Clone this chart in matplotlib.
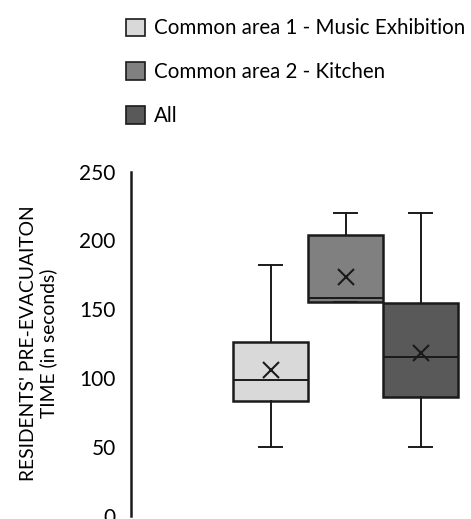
from matplotlib import pyplot as plt
from matplotlib.patches import Patch

# %% Data
series = ["Common area 1 - Music Exhibition", "Common area 2 - Kitchen", "All"]
whis_lo = [50, 155, 50]
q1 = [83, 155, 86.5]
median = [98.5, 158, 115]
q3 = [126.5, 204, 154.5]
whis_hi = [182.5, 220, 220]
mean = [106, 173.5, 118]
yticks = [0, 50, 100, 150, 200, 250]

colors = ["#d9d9d9", "#808080", "#595959"]
edge = "#1a1a1a"

plt.rcParams['font.family'] = ['Lato', 'DejaVu Sans']

fig = plt.figure(figsize=(4.71, 5.19), dpi=100)
ax = fig.add_axes([131 / 471, 3.5 / 519, 340 / 471, 343.8 / 519])

stats = []
for i in range(len(series)):
    stats.append(dict(whislo=whis_lo[i], q1=q1[i], med=median[i], q3=q3[i],
                      whishi=whis_hi[i], mean=mean[i], fliers=[]))

bp = ax.bxp(stats, positions=[1, 2, 3], widths=1.0, capwidths=0.3,
            patch_artist=True, showmeans=True, manage_ticks=False,
            boxprops=dict(edgecolor=edge, linewidth=1.8),
            medianprops=dict(color=edge, linewidth=1.4),
            whiskerprops=dict(color=edge, linewidth=1.4),
            capprops=dict(color=edge, linewidth=1.4),
            meanprops=dict(marker='x', markeredgecolor=edge, markersize=11,
                           markeredgewidth=1.5))
for box, c in zip(bp['boxes'], colors):
    box.set_facecolor(c)

ax.set_xlim(1 - 139.5 / 75, 1 - 139.5 / 75 + 340 / 75)
ax.set_ylim(0, 250)
ax.set_yticks(yticks)
ax.tick_params(axis='y', length=0, labelsize=15, pad=11)
ax.set_xticks([])
for s in ['top', 'right', 'bottom']:
    ax.spines[s].set_visible(False)
ax.spines['left'].set_linewidth(1.8)
ax.spines['left'].set_color(edge)

ax.set_ylabel("RESIDENTS' PRE-EVACUAITON\nTIME (in seconds)", fontsize=13.9,
              labelpad=16, linespacing=1.15)

handles = [Patch(facecolor=c, edgecolor=edge, linewidth=1.2) for c in colors]
fig.legend(handles, series, loc='upper left', bbox_to_anchor=(107 / 471, 1.0),
           frameon=False, fontsize=14.8, handlelength=0.95, handleheight=0.95,
           labelspacing=1.15, handletextpad=0.45)

plt.savefig('out.png', dpi=100)
